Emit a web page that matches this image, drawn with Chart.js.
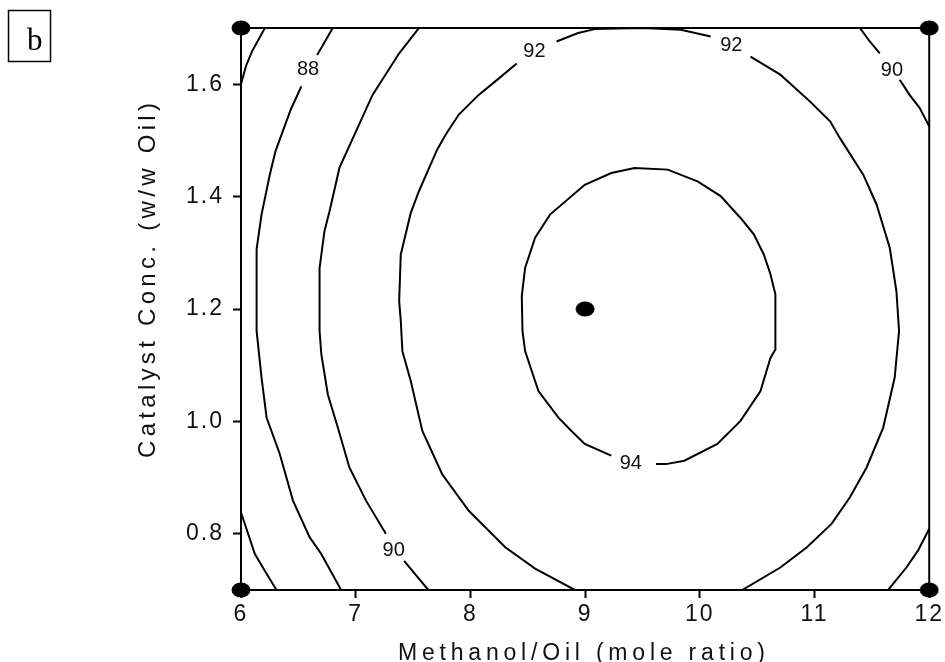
<!DOCTYPE html>
<html><head><meta charset="utf-8">
<script src="https://cdn.jsdelivr.net/npm/chart.js@4"></script>
<style>html,body{margin:0;padding:0;background:#fff}#wrap{width:945px;height:662px;position:relative}</style>
</head><body><div id="wrap"><canvas id="c" width="945" height="662"></canvas></div>
<script>
const panelLabel = 'b';
const xTitle = 'Methanol/Oil (mole ratio)';
const yTitle = 'Catalyst Conc. (w/w Oil)';
const xTicks = [6, 7, 8, 9, 10, 11, 12];
const xTickLabels = ['6', '7', '8', '9', '10', '11', '12'];
const yTicks = [0.8, 1.0, 1.2, 1.4, 1.6];
const yTickLabels = ['0.8', '1.0', '1.2', '1.4', '1.6'];

// contour lines (null = break in the line / label gap)
const c86X = [6.208, 6.095, 6.043, 6.000, null, 6.000, 6.121, 6.223, 6.310];
const c86Y = [1.700, 1.658, 1.632, 1.600, null, 0.838, 0.764, 0.729, 0.700];

const c88X = [6.800, 6.664, null, 6.526, 6.434, 6.301, 6.251, 6.179, 6.136, 6.136, 6.179, 6.223, 6.338, 6.453, 6.598, 6.700, 6.873];
const c88Y = [1.700, 1.652, null, 1.596, 1.555, 1.481, 1.439, 1.368, 1.306, 1.161, 1.078, 1.007, 0.942, 0.859, 0.794, 0.764, 0.700];

const c90X = [7.552, 7.379, 7.147, 6.858, 6.772, 6.728, 6.685, 6.685, 6.700, 6.757, 6.844, 6.945, 7.090, 7.263, null, 7.422, 7.633,
              null, 11.396, 11.482, 11.569, null, 11.743, 11.829, 11.916, 12.000,
              null, 12.000, 11.902, 11.801, 11.642];
const c90Y = [1.700, 1.655, 1.581, 1.451, 1.374, 1.339, 1.273, 1.161, 1.120, 1.048, 0.989, 0.918, 0.859, 0.800, null, 0.752, 0.700,
              null, 1.700, 1.676, 1.655, null, 1.608, 1.581, 1.558, 1.525,
              null, 0.809, 0.770, 0.740, 0.700];

const c92X = [8.911, 8.564, 8.304, 7.986, 7.754, 7.581, 7.480, 7.407, 7.393, 7.379, 7.393, 7.480, 7.552, 7.711, 7.784, 7.899, 8.072, 8.217, 8.404,
              null, 8.751, 8.939, 9.084, 9.500, 9.835, 10.095,
              null, 10.442, 10.702, 10.962, 11.136, 11.222, 11.425, 11.541, 11.656, 11.714, 11.737, 11.699, 11.599, 11.454, 11.309, 11.150, 10.934, 10.702, 10.370];
const c92Y = [0.700, 0.738, 0.776, 0.841, 0.906, 0.983, 1.072, 1.125, 1.179, 1.214, 1.297, 1.371, 1.410, 1.484, 1.510, 1.546, 1.581, 1.605, 1.637,
              null, 1.676, 1.691, 1.698, 1.700, 1.697, 1.685,
              null, 1.649, 1.617, 1.569, 1.534, 1.504, 1.439, 1.386, 1.309, 1.232, 1.161, 1.078, 0.989, 0.918, 0.865, 0.818, 0.776, 0.740, 0.700];

const c94X = [9.618, 9.705, 9.865, 10.153, 10.355, 10.529, 10.616, 10.659, 10.659, 10.616, 10.558, 10.471, 10.355, 10.182, 9.980, 9.720, 9.431, 9.228, 8.997, 8.694, 8.564, 8.477, 8.448, 8.454, 8.477, 8.593, 8.766, 8.881, 8.997, 9.228];
const c94Y = [0.924, 0.924, 0.930, 0.960, 1.001, 1.054, 1.113, 1.128, 1.226, 1.262, 1.297, 1.333, 1.362, 1.401, 1.427, 1.448, 1.451, 1.442, 1.421, 1.368, 1.327, 1.273, 1.223, 1.161, 1.125, 1.054, 1.007, 0.983, 0.960, 0.939];

// contour labels
const labelText = ['88', '92', '92', '90', '90', '94'];
const labelX = [6.585, 8.558, 10.275, 11.675, 7.331, 9.399];
const labelY = [1.627, 1.658, 1.668, 1.625, 0.770, 0.926];

// design points
const designX = [6, 6, 12, 12, 9];
const designY = [0.7, 1.7, 0.7, 1.7, 1.2];

function pts(xs, ys) {
  return xs.map((x, i) => (x === null || ys[i] === null) ? { x: xs[i - 1], y: null } : { x: x, y: ys[i] });
}
function contour(xs, ys) {
  return { data: pts(xs, ys), showLine: true, borderColor: '#000', borderWidth: 2, pointRadius: 0,
           tension: 0, spanGaps: false, fill: false };
}

const dot = document.createElement('canvas');
dot.width = 20; dot.height = 16;
(function () { const g = dot.getContext('2d'); g.fillStyle = '#000'; g.beginPath(); g.ellipse(10, 8, 9.5, 7.5, 0, 0, Math.PI * 2); g.fill(); })();

function spaced(ctx, text, x, y, target) {
  const nat = ctx.measureText(text).width;
  const sp = Math.max(0, (target - nat) / (text.length - 1));
  if ('letterSpacing' in ctx) { ctx.letterSpacing = sp + 'px'; ctx.fillText(text, x, y); ctx.letterSpacing = '0px'; }
  else ctx.fillText(text, x, y);
}

const deco = {
  id: 'deco',
  beforeDraw(chart) {
    const c = chart.ctx; c.save(); c.fillStyle = '#fff'; c.fillRect(0, 0, chart.width, chart.height); c.restore();
    if ('letterSpacing' in c) c.letterSpacing = '2px';
  },
  beforeDatasetsDraw(chart) {
    const { ctx, chartArea: a } = chart;
    if ('letterSpacing' in ctx) ctx.letterSpacing = '0px';
    ctx.save(); ctx.strokeStyle = '#000'; ctx.lineWidth = 2;
    ctx.strokeRect(a.left, a.top, a.right - a.left, a.bottom - a.top);
    ctx.restore();
  },
  afterDatasetsDraw(chart) {
    const { ctx } = chart;
    const xs = chart.scales.x, ys = chart.scales.y;
    ctx.save();
    ctx.fillStyle = '#111';
    ctx.font = '20px "Liberation Sans", Arial, sans-serif';
    ctx.textAlign = 'center'; ctx.textBaseline = 'middle';
    labelText.forEach((t, i) => ctx.fillText(t, xs.getPixelForValue(labelX[i]), ys.getPixelForValue(labelY[i])));
    // axis titles
    ctx.textAlign = 'left'; ctx.textBaseline = 'alphabetic';
    ctx.font = '23px "Liberation Sans", Arial, sans-serif';
    spaced(ctx, xTitle, 398, 660, 367);
    ctx.save();
    ctx.translate(155, 458); ctx.rotate(-Math.PI / 2);
    ctx.font = '24px "Liberation Sans Narrow", "Liberation Sans", Arial, sans-serif';
    spaced(ctx, yTitle, 0, 0, 355);
    ctx.restore();
    // panel label
    ctx.strokeStyle = '#000'; ctx.lineWidth = 1.5;
    ctx.strokeRect(8.5, 10.5, 42, 51);
    ctx.fillStyle = '#000';
    ctx.font = '31px "Liberation Serif", "Times New Roman", serif';
    ctx.fillText(panelLabel, 27, 50);
    ctx.restore();
  }
};

const tickFont = { family: '"Liberation Sans", Arial, sans-serif', size: 23 };
new Chart(document.getElementById('c').getContext('2d'), {
  type: 'scatter',
  data: {
    datasets: [
      contour(c86X, c86Y), contour(c88X, c88Y), contour(c90X, c90Y), contour(c92X, c92Y), contour(c94X, c94Y),
      { data: pts(designX, designY), pointStyle: dot, pointRadius: 9, showLine: false, clip: false }
    ]
  },
  options: {
    responsive: false, animation: false, devicePixelRatio: 1,
    layout: { padding: { top: 28, right: 12, left: 0, bottom: 0 } },
    plugins: { legend: { display: false }, tooltip: { enabled: false } },
    scales: {
      x: {
        type: 'linear', min: 6, max: 12,
        afterBuildTicks: s => { s.ticks = xTicks.map(v => ({ value: v })); },
        afterFit: s => { s.height = 72; },
        border: { display: false },
        grid: { display: true, drawOnChartArea: false, drawTicks: true, tickLength: 8, color: '#000', tickColor: '#000', tickWidth: 2 },
        ticks: { font: tickFont, color: '#111', padding: 3, maxRotation: 0, autoSkip: false,
                 callback: (v) => xTickLabels[xTicks.indexOf(v)] }
      },
      y: {
        type: 'linear', min: 0.7, max: 1.7,
        afterBuildTicks: s => { s.ticks = yTicks.map(v => ({ value: v })); },
        afterFit: s => { s.width = 241; },
        border: { display: false },
        grid: { display: true, drawOnChartArea: false, drawTicks: true, tickLength: 8, color: '#000', tickColor: '#000', tickWidth: 2 },
        ticks: { font: tickFont, color: '#111', padding: 9, autoSkip: false,
                 callback: (v) => { const i = yTicks.findIndex(t => Math.abs(t - v) < 1e-9); return i >= 0 ? yTickLabels[i] : ''; } }
      }
    }
  },
  plugins: [deco]
});
</script></body></html>
